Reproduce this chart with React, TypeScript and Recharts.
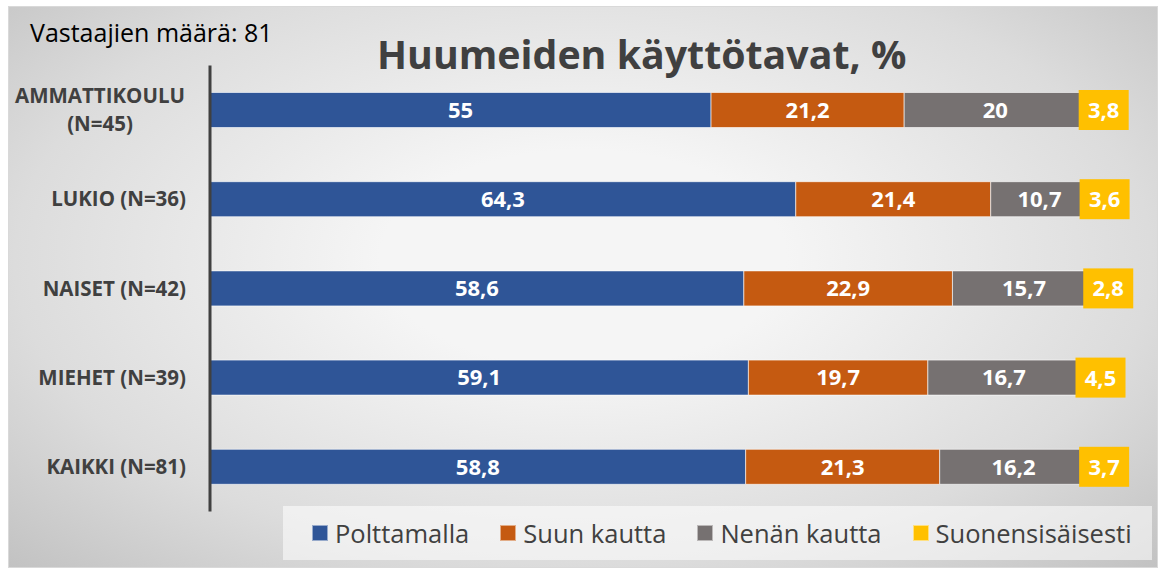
import { BarChart, Bar, XAxis, YAxis, LabelList } from 'recharts';

const categories = ['AMMATTIKOULU\n(N=45)', 'LUKIO (N=36)', 'NAISET (N=42)', 'MIEHET (N=39)', 'KAIKKI (N=81)'];
const polttamalla = [55, 64.3, 58.6, 59.1, 58.8];
const suunKautta = [21.2, 21.4, 22.9, 19.7, 21.3];
const nenanKautta = [20, 10.7, 15.7, 16.7, 16.2];
const suonensisaisesti = [3.8, 3.6, 2.8, 4.5, 3.7];
const seriesNames = ['Polttamalla', 'Suun kautta', 'Nenän kautta', 'Suonensisäisesti'];
const COLORS = ['#2f5597', '#c55a11', '#767171', '#ffc000'];

const FONT = '"Open Sans", Lato, sans-serif';
const TEXT = '#404040';

const data = categories.map((name, i) => ({
  name,
  s0: polttamalla[i],
  s1: suunKautta[i],
  s2: nenanKautta[i],
  s3: suonensisaisesti[i],
}));

const fmt = (v: any) => String(v).replace('.', ',');

function CategoryTick({ x, y, payload }: any) {
  const lines: string[] = String(payload.value).split('\n');
  const style = { fontFamily: FONT, fontWeight: 700, fontSize: 20.5, fill: TEXT };
  if (lines.length > 1) {
    return (
      <g>
        {lines.map((l, i) => (
          <text key={i} x={x - 86} y={y + (i - (lines.length - 1) / 2) * 28} dy={7} textAnchor="middle" style={style}>
            {l}
          </text>
        ))}
      </g>
    );
  }
  return (
    <text x={x} y={y} dy={7} textAnchor="end" style={style}>
      {lines[0]}
    </text>
  );
}

function YellowLabel({ x, y, width, height, value }: any) {
  const cx = x + width / 2;
  const cy = y + height / 2;
  return (
    <g>
      <rect x={cx - 25} y={cy - 20} width={50} height={40} fill="#ffc000" />
      <text x={cx} y={cy} dy={8} textAnchor="middle" style={{ fontFamily: FONT, fontWeight: 700, fontSize: 22, fill: '#fff' }}>
        {fmt(value)}
      </text>
    </g>
  );
}

const labelStyle = { fontFamily: FONT, fontWeight: 700, fontSize: 22, fill: '#ffffff' };

export default function App() {
  return (
    <div style={{ position: 'absolute', left: 0, top: 0, width: 1168, height: 569, background: '#fff' }}>
      <div
        style={{
          position: 'absolute', left: 8, top: 6, width: 1150, height: 562,
          background: 'radial-gradient(ellipse at 50% 45%, #f5f5f5 25%, #dcdcdc 70%, #c2c2c2 100%)',
          border: '1px solid #d9d9d9', boxSizing: 'border-box',
        }}
      />
      <div style={{ position: 'absolute', left: 30, top: 15, fontFamily: FONT, fontSize: 25, color: '#000', whiteSpace: 'nowrap' }}>
        Vastaajien määrä: 81
      </div>
      <div style={{ position: 'absolute', left: 377, top: 27, fontFamily: FONT, fontSize: 39.3, fontWeight: 700, color: TEXT, whiteSpace: 'nowrap' }}>
        Huumeiden käyttötavat, %
      </div>
      <div
        style={{
          position: 'absolute', left: 283, top: 506, width: 869, height: 54,
          background: 'rgba(255,255,255,0.55)', display: 'flex', alignItems: 'center',
          gap: 31, paddingLeft: 29, boxSizing: 'border-box',
          fontFamily: FONT, fontSize: 25.5, color: TEXT,
        }}
      >
        {seriesNames.map((n, i) => (
          <span key={n} style={{ display: 'flex', alignItems: 'center', gap: 7, whiteSpace: 'nowrap' }}>
            <span style={{ width: 14, height: 14, background: COLORS[i], border: '1px solid rgba(255,255,255,0.5)', display: 'inline-block' }} />
            {n}
          </span>
        ))}
      </div>
      <div style={{ position: 'absolute', left: 0, top: 0 }}>
        <BarChart
          width={1168}
          height={569}
          data={data}
          layout="vertical"
          margin={{ top: 65.5, right: 47, bottom: 57.5, left: 10 }}
          barCategoryGap={0}
        >
          <XAxis type="number" domain={[0, 100]} hide />
          <YAxis
            type="category"
            dataKey="name"
            width={200}
            axisLine={{ stroke: TEXT, strokeWidth: 3 }}
            tickLine={false}
            tickSize={0}
            tickMargin={24}
            tick={<CategoryTick />}
            interval={0}
          />
          {['s0', 's1', 's2'].map((k, i) => (
            <Bar key={k} dataKey={k} name={seriesNames[i]} stackId="a" fill={COLORS[i]} barSize={35}
              stroke="#ffffff" strokeOpacity={0.6} strokeWidth={1} isAnimationActive={false}>
              <LabelList dataKey={k} position="center" formatter={fmt} style={labelStyle} />
            </Bar>
          ))}
          <Bar dataKey="s3" name={seriesNames[3]} stackId="a" fill={COLORS[3]} barSize={35}
            stroke="#ffffff" strokeOpacity={0.6} strokeWidth={1} isAnimationActive={false}>
            <LabelList dataKey="s3" content={<YellowLabel />} />
          </Bar>
        </BarChart>
      </div>
    </div>
  );
}
